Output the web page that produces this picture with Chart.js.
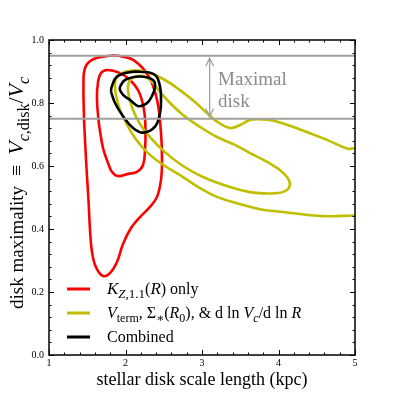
<!DOCTYPE html>
<html>
<head>
<meta charset="utf-8">
<script src="https://cdn.jsdelivr.net/npm/chart.js@4.4.0/dist/chart.umd.min.js"></script>
<style>
  html, body { margin: 0; padding: 0; background: #fff; }
  #wrap { width: 395px; height: 395px; }
</style>
</head>
<body>
<div id="wrap"><canvas id="chart" width="395" height="395"></canvas></div>
<script>
// contour levels: [scale length (kpc), Vc,disk/Vc]
const kzOuter = [
  [1.458, 0.746], [1.484, 0.619], [1.516, 0.492], [1.536, 0.397], [1.562, 0.327],
  [1.614, 0.279], [1.706, 0.251], [1.797, 0.260], [1.889, 0.295], [1.967, 0.352],
  [2.072, 0.403], [2.190, 0.438], [2.320, 0.470], [2.412, 0.502], [2.464, 0.556],
  [2.477, 0.619], [2.464, 0.705], [2.412, 0.810], [2.307, 0.883], [2.124, 0.933],
  [1.928, 0.949], [1.758, 0.949], [1.562, 0.937], [1.471, 0.911], [1.451, 0.857]
];
const kzInner = [
  [1.654, 0.730], [1.706, 0.657], [1.771, 0.610], [1.824, 0.581], [1.902, 0.568],
  [2.033, 0.575], [2.150, 0.581], [2.229, 0.603], [2.255, 0.651], [2.261, 0.714],
  [2.242, 0.778], [2.176, 0.835], [2.059, 0.873], [1.928, 0.895], [1.758, 0.905],
  [1.680, 0.895], [1.641, 0.867], [1.627, 0.810]
];
const rotOuter = [
  [5.0, 0.657], [4.9, 0.655], [4.634, 0.683], [4.281, 0.716], [3.954, 0.743],
  [3.784, 0.748], [3.627, 0.746], [3.497, 0.730], [3.366, 0.721], [3.196, 0.741],
  [3.065, 0.768], [2.908, 0.803], [2.712, 0.841], [2.516, 0.873], [2.320, 0.895],
  [2.163, 0.903], [2.007, 0.900], [1.902, 0.886], [1.863, 0.863], [1.876, 0.825],
  [1.928, 0.778], [2.007, 0.737], [2.124, 0.689], [2.294, 0.641], [2.516, 0.600],
  [2.752, 0.565], [2.974, 0.530], [3.196, 0.502], [3.497, 0.479], [3.758, 0.463],
  [4.059, 0.454], [4.582, 0.441], [5.0, 0.443]
];
const rotInner = [
  [2.046, 0.819], [2.033, 0.854], [2.072, 0.876], [2.150, 0.886], [2.255, 0.883],
  [2.346, 0.867], [2.451, 0.835], [2.582, 0.800], [2.752, 0.762], [2.974, 0.724],
  [3.196, 0.692], [3.431, 0.667], [3.627, 0.641], [3.784, 0.622], [3.902, 0.606],
  [4.020, 0.587], [4.111, 0.565], [4.150, 0.543], [4.111, 0.524], [3.993, 0.514],
  [3.824, 0.513], [3.627, 0.517], [3.366, 0.533], [3.013, 0.565], [2.752, 0.600],
  [2.516, 0.644], [2.320, 0.692], [2.190, 0.733], [2.098, 0.778]
];
const combOuter = [
  [1.810, 0.836], [1.863, 0.800], [1.971, 0.757], [2.102, 0.720], [2.233, 0.706],
  [2.386, 0.725], [2.451, 0.768], [2.464, 0.810], [2.451, 0.852], [2.386, 0.889],
  [2.190, 0.899], [2.033, 0.897], [1.885, 0.883], [1.820, 0.852]
];
const combInner = [
  [1.928, 0.852], [1.993, 0.873], [2.190, 0.884], [2.360, 0.873], [2.386, 0.852],
  [2.342, 0.820], [2.277, 0.799], [2.167, 0.790], [2.059, 0.810], [1.971, 0.825],
  [1.928, 0.841]
];
const maximalBounds = [0.75, 0.95];
const xRange = [1, 5];
const yRange = [0, 1];
const xMinorStep = 0.2;
const yMinorStep = 0.04;

const RED = '#ff0000';
const OLIVE = '#bfbf00';
const BLACK = '#000000';
const GRAY = '#a0a0a0';
const SERIF = '"Liberation Serif", "DejaVu Serif", serif';

function font(size, italic) {
  return (italic ? 'italic ' : '') + size + 'px ' + SERIF;
}
// small rich-text helpers for the math bits
function R(t, s) { return { t: t, font: font(s, false), dy: 0 }; }
function I(t, s) { return { t: t, font: font(s, true), dy: 0 }; }
function S(t, s) { return { t: t, font: font(Math.round(s * 0.74), false), dy: s * 0.26 }; }
function SI(t, s) { return { t: t, font: font(Math.round(s * 0.74), true), dy: s * 0.26 }; }

function runsWidth(ctx, runs) {
  let w = 0;
  runs.forEach(r => { ctx.font = r.font; w += ctx.measureText(r.t).width; });
  return w;
}
function drawRuns(ctx, runs, x, y) {
  runs.forEach(r => {
    ctx.font = r.font;
    ctx.fillText(r.t, x, y + r.dy);
    x += ctx.measureText(r.t).width;
  });
}

const LS = 16;
const legendEntries = [
  { color: RED, runs: [I('K', 17), SI('Z', 17), S(',1.1', 17), R('(', LS), I('R', 17), R(') only', LS)] },
  { color: OLIVE, runs: [I('V', LS), S('term', LS), R(', \u03A3', LS), S('\u2217', LS), R('(', LS), I('R', LS),
      S('0', LS), R('), & d ln ', LS), I('V', LS), SI('c', LS), R('/d ln ', LS), I('R', LS)] },
  { color: BLACK, runs: [R('Combined', LS)] }
];
const TS = 18;
const MS = 22;
const yTitleRuns = [
  R('disk maximality', 19), R('\u2002\u2261\u2002', 20), I('V', MS), SI('c', MS), S(',disk', MS),
  R('/', MS), I('V', MS), SI('c', MS)
];
const xTitle = 'stellar disk scale length (kpc)';

function closed(pts) {
  const d = pts.map(p => ({ x: p[0], y: p[1] }));
  d.push({ x: pts[0][0], y: pts[0][1] });
  return d;
}
function open(pts) {
  return pts.map(p => ({ x: p[0], y: p[1] }));
}
function contour(pts, color, isClosed) {
  return {
    data: isClosed ? closed(pts) : open(pts),
    showLine: true,
    borderColor: color,
    borderWidth: 2.6,
    pointRadius: 0,
    tension: 0.4,
    fill: false
  };
}
function hline(v) {
  return {
    data: [{ x: xRange[0], y: v }, { x: xRange[1], y: v }],
    showLine: true,
    borderColor: GRAY,
    borderWidth: 2,
    pointRadius: 0
  };
}

const decorPlugin = {
  id: 'decor',
  beforeDraw(chart) {
    const ctx = chart.ctx;
    ctx.save();
    ctx.fillStyle = '#fff';
    ctx.fillRect(0, 0, chart.width, chart.height);
    ctx.restore();
  },
  afterDatasetsDraw(chart) {
    const ctx = chart.ctx;
    const a = chart.chartArea;
    const xs = chart.scales.x, ys = chart.scales.y;
    ctx.save();

    // inward ticks on all four sides
    ctx.strokeStyle = '#000';
    ctx.lineWidth = 1;
    ctx.beginPath();
    const nx = Math.round((xRange[1] - xRange[0]) / xMinorStep);
    for (let i = 0; i <= nx; i++) {
      const v = xRange[0] + i * xMinorStep;
      const len = (i % 5 === 0) ? 5 : 2.5;
      const px = Math.round(xs.getPixelForValue(v)) + 0.5;
      ctx.moveTo(px, a.bottom); ctx.lineTo(px, a.bottom - len);
      ctx.moveTo(px, a.top); ctx.lineTo(px, a.top + len);
    }
    const ny = Math.round((yRange[1] - yRange[0]) / yMinorStep);
    for (let i = 0; i <= ny; i++) {
      const v = yRange[0] + i * yMinorStep;
      const len = (i % 5 === 0) ? 5 : 2.5;
      const py = Math.round(ys.getPixelForValue(v)) + 0.5;
      ctx.moveTo(a.left, py); ctx.lineTo(a.left + len, py);
      ctx.moveTo(a.right, py); ctx.lineTo(a.right - len, py);
    }
    ctx.stroke();

    // frame
    ctx.lineWidth = 1.5;
    ctx.strokeRect(a.left, a.top, a.right - a.left, a.bottom - a.top);

    // "Maximal disk" double arrow
    const ax = xs.getPixelForValue(3.1);
    const y1 = ys.getPixelForValue(0.942);
    const y2 = ys.getPixelForValue(0.757);
    ctx.strokeStyle = GRAY;
    ctx.lineWidth = 1.3;
    ctx.beginPath();
    ctx.moveTo(ax, y1); ctx.lineTo(ax, y2);
    ctx.moveTo(ax - 4, y1 + 8); ctx.lineTo(ax, y1); ctx.lineTo(ax + 4, y1 + 8);
    ctx.moveTo(ax - 4, y2 - 8); ctx.lineTo(ax, y2); ctx.lineTo(ax + 4, y2 - 8);
    ctx.stroke();
    ctx.fillStyle = '#8a8a8a';
    ctx.font = font(19, false);
    ctx.textBaseline = 'alphabetic';
    ctx.textAlign = 'left';
    const tx = xs.getPixelForValue(3.21);
    ctx.fillText('Maximal', tx, ys.getPixelForValue(0.857));
    ctx.fillText('disk', tx, ys.getPixelForValue(0.787));

    // legend
    legendEntries.forEach((e, i) => {
      const cy = a.top + 249 + i * 24;
      ctx.strokeStyle = e.color;
      ctx.lineWidth = 3;
      ctx.beginPath();
      ctx.moveTo(a.left + 18, cy);
      ctx.lineTo(a.left + 41, cy);
      ctx.stroke();
      ctx.fillStyle = '#000';
      drawRuns(ctx, e.runs, a.left + 58, cy + 5);
    });
    ctx.restore();
  },
  afterDraw(chart) {
    const ctx = chart.ctx;
    const a = chart.chartArea;
    ctx.save();
    ctx.fillStyle = '#000';
    ctx.textBaseline = 'alphabetic';
    ctx.font = font(TS, false);
    ctx.textAlign = 'center';
    ctx.fillText(xTitle, (a.left + a.right) / 2, 385);
    ctx.textAlign = 'left';
    // rotated y title, starting near the bottom like the original
    ctx.translate(23, 309);
    ctx.rotate(-Math.PI / 2);
    drawRuns(ctx, yTitleRuns, 0, 0);
    ctx.restore();
  }
};

new Chart(document.getElementById('chart'), {
  type: 'scatter',
  data: {
    datasets: [
      hline(maximalBounds[0]),
      hline(maximalBounds[1]),
      contour(combInner, BLACK, true),
      contour(combOuter, BLACK, true),
      contour(rotInner, OLIVE, true),
      contour(rotOuter, OLIVE, false),
      contour(kzInner, RED, true),
      contour(kzOuter, RED, true)
    ]
  },
  options: {
    responsive: false,
    animation: false,
    events: [],
    layout: { padding: { top: 40, right: 40, left: 0, bottom: 0 } },
    plugins: { legend: { display: false }, tooltip: { enabled: false } },
    scales: {
      x: {
        type: 'linear',
        min: xRange[0],
        max: xRange[1],
        grid: { display: false, drawTicks: false },
        border: { display: false },
        ticks: {
          stepSize: 1,
          padding: 2,
          color: '#000',
          font: { family: SERIF, size: 10 },
          callback: v => String(v)
        },
        afterFit: s => { s.height = 40; }
      },
      y: {
        type: 'linear',
        min: yRange[0],
        max: yRange[1],
        grid: { display: false, drawTicks: false },
        border: { display: false },
        ticks: {
          stepSize: 0.2,
          padding: 5,
          color: '#000',
          font: { family: SERIF, size: 10 },
          callback: v => v.toFixed(1)
        },
        afterFit: s => { s.width = 49; }
      }
    }
  },
  plugins: [decorPlugin]
});
</script>
</body>
</html>
